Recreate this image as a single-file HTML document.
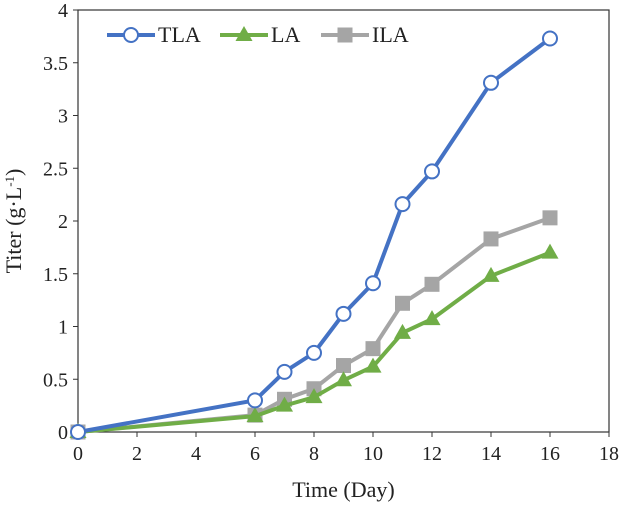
<!DOCTYPE html>
<html><head><meta charset="utf-8"><style>
body{margin:0;background:#fff}
svg text{font-family:"Liberation Serif",serif;fill:#222}
</style></head><body>
<svg id="c" width="620" height="506" xmlns="http://www.w3.org/2000/svg"></svg>
<script>
const days=[0,6,7,8,9,10,11,12,14,16];
const tla=[0,0.30,0.57,0.75,1.12,1.41,2.16,2.47,3.31,3.73];
const la=[0,0.15,0.25,0.33,0.49,0.62,0.94,1.07,1.48,1.70];
const ila=[0,0.16,0.31,0.41,0.63,0.79,1.22,1.40,1.83,2.03];
const xTicks=[0,2,4,6,8,10,12,14,16,18];
const yTicks=[0,0.5,1,1.5,2,2.5,3,3.5,4];
const yLabels=["0","0.5","1","1.5","2","2.5","3","3.5","4"];
const svg=document.getElementById('c');const NS="http://www.w3.org/2000/svg";
const X=v=>78+v*(609-78)/18, Y=v=>432-v*(432-10)/4;
function el(t,a,p){const e=document.createElementNS(NS,t);for(const k in a)e.setAttribute(k,a[k]);(p||svg).appendChild(e);return e;}
let f=el('rect',{x:X(0),y:Y(4),width:X(18)-X(0),height:Y(0)-Y(4),fill:'none',stroke:'#333','stroke-width':1.2});

xTicks.forEach(v=>{el('line',{x1:X(v),x2:X(v),y1:Y(0),y2:Y(0)+5,stroke:'#333'});
let t=el('text',{x:X(v),y:460,'text-anchor':'middle','font-size':20});t.textContent=v;
});
yTicks.forEach((v,i)=>{el('line',{x1:X(0)-5,x2:X(0),y1:Y(v),y2:Y(v),stroke:'#333'});
let t=el('text',{x:X(0)-10,y:Y(v)+7,'text-anchor':'end','font-size':20});t.textContent=yLabels[i];
});
let xt=el('text',{x:X(9),y:497,'text-anchor':'middle','font-size':22});xt.textContent='Time (Day)';

let yt=el('text',{x:0,y:0,'text-anchor':'middle','font-size':22,transform:'translate(21,221) rotate(-90)'});
yt.innerHTML='Titer (g·L<tspan dy="-7" font-size="13">-1</tspan><tspan dy="7">)</tspan>';

function marker(type,x,y,c,g){
 if(type==='o')el('circle',{cx:x,cy:y,r:7,fill:'#fff',stroke:c,'stroke-width':2},g);
 else if(type==='t')el('polygon',{points:`${x},${y-9} ${x-8.5},${y+6} ${x+8.5},${y+6}`,fill:c},g);
 else el('rect',{x:x-7.5,y:y-7.5,width:15,height:15,fill:c},g);}
const series=[[ila,'#A5A5A5','s','ila'],[la,'#70AD47','t','la'],[tla,'#4472C4','o','tla']];
series.forEach(([d,c,m,n])=>{const g=el('g',{});

el('polyline',{points:d.map((v,i)=>X(days[i])+','+Y(v)).join(' '),fill:'none',stroke:c,'stroke-width':4,'stroke-linejoin':'round'},g);
d.forEach((v,i)=>marker(m,X(days[i]),Y(v),c,g));});
const leg=[['TLA','#4472C4','o',107],['LA','#70AD47','t',220],['ILA','#A5A5A5','s',321]];
leg.forEach(([n,c,m,x])=>{const g=el('g',{});

el('line',{x1:x,x2:x+48,y1:35,y2:35,stroke:c,'stroke-width':4},g);marker(m,x+24,35,c,g);
let t=el('text',{x:x+51,y:42,'font-size':22},g);t.textContent=n;});
</script></body></html>
